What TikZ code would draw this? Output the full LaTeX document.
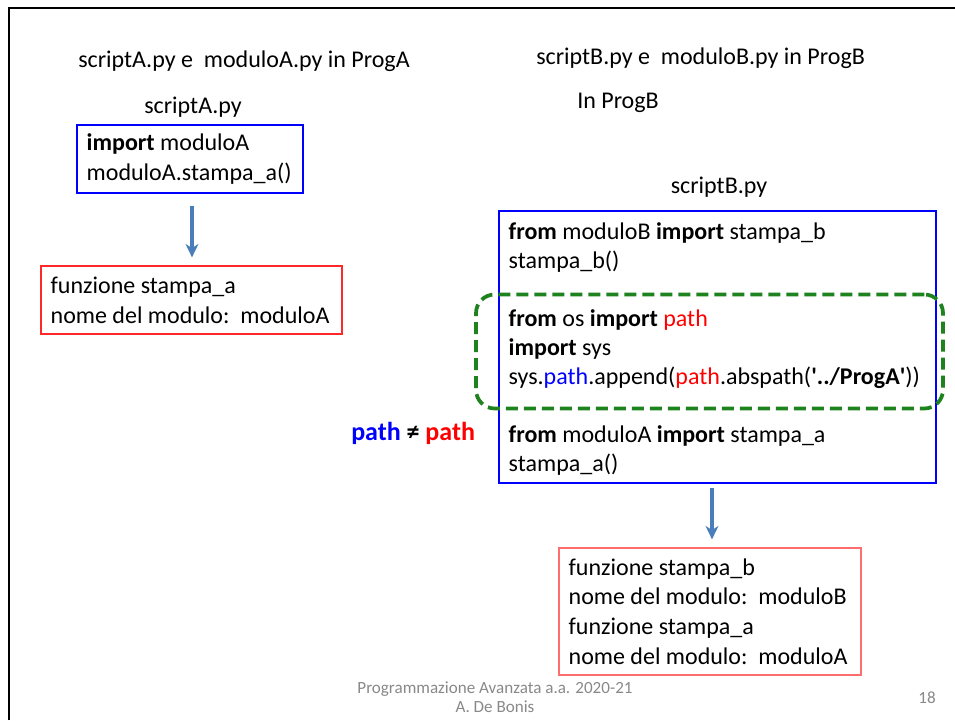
\documentclass[tikz,border=0pt]{standalone}
\usepackage{fontspec}
\setmainfont{Carlito}
\usetikzlibrary{arrows.meta}

\definecolor{codeblue}{RGB}{0,0,255}
\definecolor{codered}{RGB}{255,0,0}
\definecolor{boxredA}{RGB}{255,40,40}
\definecolor{boxredB}{RGB}{255,110,110}
\definecolor{arrowblue}{RGB}{74,126,187}
\definecolor{dashgreen}{RGB}{30,130,30}
\definecolor{footgray}{RGB}{137,137,137}

\newcommand{\qs}{\textquotesingle}

\tikzset{
  txt/.style={font=\fontsize{18}{22.3}\selectfont, inner sep=0pt},
  body/.style={txt, align=left, anchor=west},
  codebox/.style={draw=codeblue, line width=0.85pt, inner sep=0pt},
  outbox/.style={line width=0.9pt, inner sep=0pt},
  flow/.style={draw=arrowblue, line width=2.4pt,
               -{Stealth[length=10pt, width=9.5pt, inset=3pt]}},
  groupbox/.style={draw=dashgreen, line width=2.8pt, rounded corners=14pt,
                   dash pattern=on 9pt off 4.5pt, inner sep=0pt},
  foot/.style={font=\fontsize{12.8}{14.3}\selectfont, text=footgray,
               inner sep=0pt, align=center},
}

\begin{document}
\begin{tikzpicture}[x=0.75pt, y=-0.75pt]
  \useasboundingbox (0,0) rectangle (955,720);
  \fill[white] (0,0) rectangle (955,720);

  % slide frame (left and top edges)
  \draw[black, line width=1.8pt] (9,720) -- (9,8) -- (955,8);

  % --- left column: ProgA ---
  \node[txt, anchor=west] (titleA) at (78,61)
    {scriptA.py e\ \ moduloA.py in ProgA};
  \node[txt] (nameA) at (193,107) {scriptA.py};

  \node[codebox, minimum width=169.5pt, minimum height=51pt]
    (scriptA) at (190,159) {};
  \node[body, font=\fontsize{18}{22.5}\selectfont]
    (scriptAtext) at ([xshift=7.5pt]scriptA.west)
    {\textbf{import} moduloA\\moduloA.stampa\_a()};

  \node[outbox, draw=boxredA, minimum width=225.75pt, minimum height=51pt]
    (outA) at (191.5,300) {};
  \node[body] (outAtext) at ([xshift=7.5pt]outA.west)
    {funzione stampa\_a\\nome del modulo:\ \ moduloA};

  \draw[flow, shorten <=9pt, shorten >=6pt]
    ([xshift=1.5pt]scriptA.south) -- ([xshift=1.5pt]scriptA.south |- outA.north);

  % --- right column: ProgB ---
  \node[txt, anchor=west] (titleB) at (536,58)
    {scriptB.py e\ \ moduloB.py in ProgB};
  \node[txt, anchor=west] (inB) at (577,103) {In ProgB};
  \node[txt] (nameB) at (719,187) {scriptB.py};

  \node[codebox, minimum width=327.75pt, minimum height=204pt]
    (scriptB) at (717.5,347) {};
  \node[body, font=\fontsize{18}{21.75}\selectfont]
    (scriptBtext) at ([xshift=7.5pt, yshift=-1.2pt]scriptB.west)
    {\textbf{from} moduloB \textbf{import} stampa\_b\\
     stampa\_b()\\
     \strut\\
     \textbf{from} os \textbf{import} \textcolor{codered}{path}\\
     \textbf{import} sys\\
     sys.\textcolor{codeblue}{path}.append(\textcolor{codered}{path}.abspath(\textbf{\qs../ProgA\qs}))\\
     \strut\\
     \textbf{from} moduloA \textbf{import} stampa\_a\\
     stampa\_a()};

  % dashed group around the sys.path lines
  \node[groupbox, minimum width=350.25pt, minimum height=85.5pt]
    (pathgroup) at (709.5,351.5) {};

  \node[txt, anchor=west, font=\fontsize{19.5}{23}\selectfont\bfseries]
    (neq) at (351,433)
    {\textcolor{codeblue}{path} ≠ \textcolor{codered}{path}};

  \node[outbox, draw=boxredB, minimum width=226.5pt, minimum height=95.25pt]
    (outB) at (710,611.5) {};
  \node[body] (outBtext) at ([xshift=7.5pt]outB.west)
    {funzione stampa\_b\\nome del modulo:\ \ moduloB\\
     funzione stampa\_a\\nome del modulo:\ \ moduloA};

  \draw[flow, shorten <=3pt, shorten >=6pt]
    ([xshift=1.5pt]scriptB.south -| outB.north) -- ([xshift=1.5pt]outB.north);

  % --- footer ---
  \node[foot] (course) at (495,697)
    {Programmazione Avanzata a.a. 2020-21\\A. De Bonis};
  \node[foot] (pageno) at (927,698) {18};
\end{tikzpicture}
\end{document}
